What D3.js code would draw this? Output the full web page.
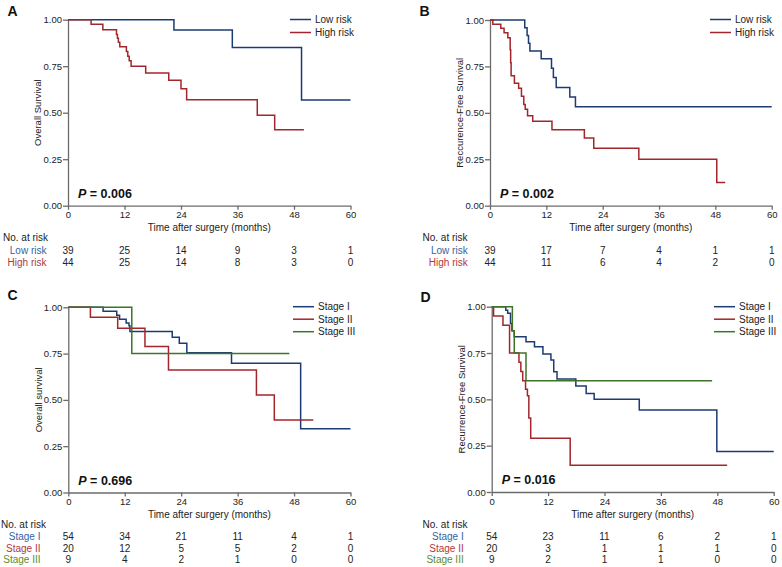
<!DOCTYPE html>
<html>
<head>
<meta charset="utf-8">
<script src="https://cdnjs.cloudflare.com/ajax/libs/d3/7.8.5/d3.min.js"></script>
<style>
	body { margin: 0; background: #fff; }
	svg { display: block; font-family: "Liberation Sans", Arial, sans-serif; }
	.axis path, .axis line { stroke: #6b6b6b; stroke-width: 1.3; }
	.axis text { fill: #222; font-size: 9.5px; }
</style>
</head>
<body>
<div class="svg-container"></div>
<script>
var pageWidth = 782,
	pageHeight = 567;

// tick labels
var timeTicks = [0, 12, 24, 36, 48, 60];
var survTicks = [0, 0.25, 0.5, 0.75, 1];

// A: overall survival by risk group  [months, survival]
var osLowRisk = [[0,1],[22.5,0.944],[34.9,0.85],[49.6,0.568],[60,0.568]];
var osHighRisk = [[0,1],[4.9,0.975],[7.4,0.946],[10.3,0.921],[10.5,0.9],[10.7,0.879],[11.0,0.854],
	[12.4,0.829],[12.7,0.804],[13.0,0.779],[13.4,0.75],[16.5,0.714],[21.4,0.675],[24.0,0.629],
	[25.2,0.57],[40.2,0.486],[43.9,0.409],[50.1,0.409]];

// B: recurrence-free survival by risk group
var rfsLowRisk = [[0,1],[7.4,0.958],[7.9,0.917],[8.2,0.875],[8.5,0.833],[10.9,0.792],[13.1,0.74],
	[13.5,0.69],[14.1,0.637],[17.0,0.585],[18.2,0.533],[60,0.533]];
var rfsHighRisk = [[0,1],[0.6,0.977],[2.3,0.955],[3.0,0.932],[3.8,0.905],[4.3,0.84],[4.4,0.77],
	[4.5,0.70],[5.2,0.659],[6.1,0.632],[6.7,0.59],[7.2,0.545],[7.5,0.52],[8.0,0.484],[9.1,0.455],
	[13.2,0.409],[20.1,0.364],[22.1,0.31],[31.7,0.25],[48.3,0.125],[50.1,0.125]];

// C: overall survival by stage
var osStage1 = [[0,1],[7.4,0.978],[10.3,0.957],[10.9,0.935],[12.3,0.915],[12.9,0.9],[13.1,0.869],
	[22.1,0.838],[23.6,0.806],[25.2,0.755],[34.7,0.698],[49.4,0.344],[60,0.344]];
var osStage2 = [[0,1],[4.7,0.946],[10.5,0.887],[16.3,0.788],[21.3,0.662],[40.0,0.527],[43.8,0.392],[52.1,0.392]];
var osStage3 = [[0,1],[13.5,0.75],[47.0,0.75]];

// D: recurrence-free survival by stage
var rfsStage1 = [[0,1],[3.0,0.981],[3.4,0.964],[4.0,0.91],[4.3,0.87],[4.8,0.838],[7.3,0.811],
	[9.1,0.784],[10.9,0.745],[12.6,0.712],[13.2,0.649],[13.9,0.61],[17.9,0.572],[20.1,0.532],
	[21.8,0.5],[31.4,0.442],[47.9,0.218],[60,0.218]];
var rfsStage2 = [[0,1],[0.4,0.95],[2.4,0.9],[3.8,0.75],[5.8,0.7],[6.2,0.65],[6.6,0.6],[7.2,0.555],
	[7.6,0.52],[7.9,0.4],[8.3,0.29],[16.7,0.145],[50.1,0.145]];
var rfsStage3 = [[0,1],[4.4,0.87],[4.8,0.75],[7.3,0.6],[46.9,0.6]];

// numbers at risk at 0, 12, 24, 36, 48, 60 months
var riskA = [[39,25,14,9,3,1],[44,25,14,8,3,0]];
var riskB = [[39,17,7,4,1,1],[44,11,6,4,2,0]];
var riskC = [[54,34,21,11,4,1],[20,12,5,5,2,0],[9,4,2,1,0,0]];
var riskD = [[54,23,11,6,2,1],[20,3,1,1,1,0],[9,2,1,1,0,0]];

var riskNames = ["Low risk", "High risk"];
var stageNames = ["Stage I", "Stage II", "Stage III"];
var pValues = ["0.006", "0.002", "0.696", "0.016"];

var lineColors = ["#1d3b73", "#a2262b", "#3d7428"];
var labelColors = ["#3563a3", "#b0383d", "#5b8c2e"];

var panels = [
	{letter: "A", letterX: 7.5, letterY: 16, x: [68, 350.5], y: [205.7, 19.7], ytitle: "Overall Survival",
	 series: [osLowRisk, osHighRisk], names: riskNames, risk: riskA, p: pValues[0],
	 legendX: 290, legendY: 19.5, legendStep: 13, rowLabelX: 46.5, noRiskX: 3, rowTop: 241, rowStep: 12.6},
	{letter: "B", letterX: 419.5, letterY: 15.5, x: [490, 771.7], y: [205.7, 20], ytitle: "Reccurence-Free Survival",
	 series: [rfsLowRisk, rfsHighRisk], names: riskNames, risk: riskB, p: pValues[1],
	 legendX: 710, legendY: 19.5, legendStep: 13, rowLabelX: 467.7, noRiskX: 422.5, rowTop: 241, rowStep: 12.6},
	{letter: "C", letterX: 7.5, letterY: 299.5, x: [68.3, 350.5], y: [492.5, 307.3], ytitle: "Overall survival",
	 series: [osStage1, osStage2, osStage3], names: stageNames, risk: riskC, p: pValues[2],
	 legendX: 293, legendY: 306.7, legendStep: 12.5, rowLabelX: 40.5, noRiskX: 1, rowTop: 528, rowStep: 11.8},
	{letter: "D", letterX: 420.5, letterY: 301.5, x: [491.7, 773.7], y: [492, 306.7], ytitle: "Recurrence-Free Survival",
	 series: [rfsStage1, rfsStage2, rfsStage3], names: stageNames, risk: riskD, p: pValues[3],
	 legendX: 714, legendY: 306.7, legendStep: 12.5, rowLabelX: 463.7, noRiskX: 422.5, rowTop: 528, rowStep: 11.8}
];

function plot() {
	var svg = d3.select(".svg-container")
	.append("svg")
	.attr("width", pageWidth)
	.attr("height", pageHeight);

	panels.forEach(function(p) {
		drawPanel(svg, p);
	});
}

function drawPanel(svg, p) {
	var xScale = d3.scaleLinear().domain([0, 60]).range(p.x);
	var yScale = d3.scaleLinear().domain([0, 1]).range(p.y);

	var xAxis = d3.axisBottom(xScale).tickValues(timeTicks).tickSize(4).tickPadding(2).tickSizeOuter(0);
	var yAxis = d3.axisLeft(yScale).tickValues(survTicks).tickFormat(d3.format(".2f")).tickSize(5).tickPadding(1).tickSizeOuter(0);

	svg.append("g")
	.attr("class", "axis")
	.attr("transform", "translate(0," + p.y[0] + ")")
	.call(xAxis);

	svg.append("g")
	.attr("class", "axis")
	.attr("transform", "translate(" + p.x[0] + ",0)")
	.call(yAxis);

	// y title
	svg.append("text")
	.attr("transform", "translate(" + (p.x[0] - 30) + "," + ((p.y[0] + p.y[1]) / 2) + ") rotate(-90)")
	.attr("text-anchor", "middle")
	.attr("dy", "0.35em")
	.attr("font-size", "9.5px")
	.attr("fill", "#222")
	.text(p.ytitle);

	// x title
	svg.append("text")
	.attr("x", (p.x[0] + p.x[1]) / 2)
	.attr("y", p.y[0] + 25.5)
	.attr("text-anchor", "middle")
	.attr("font-size", "10px")
	.attr("fill", "#222")
	.text("Time after surgery (months)");

	// panel letter
	svg.append("text")
	.attr("x", p.letterX)
	.attr("y", p.letterY)
	.attr("font-size", "14px")
	.attr("font-weight", "bold")
	.attr("fill", "#111")
	.text(p.letter);

	var line = d3.line()
	.curve(d3.curveStepAfter)
	.x(function(d) { return xScale(d[0]); })
	.y(function(d) { return yScale(d[1]); });

	p.series.forEach(function(s, i) {
		svg.append("path")
		.datum(s)
		.attr("fill", "none")
		.attr("stroke", lineColors[i])
		.attr("stroke-width", 1.5)
		.attr("d", line);
	});

	// legend
	p.names.forEach(function(name, i) {
		var ly = p.legendY + i * p.legendStep;
		svg.append("line")
		.attr("x1", p.legendX).attr("x2", p.legendX + 21)
		.attr("y1", ly).attr("y2", ly)
		.attr("stroke", lineColors[i])
		.attr("stroke-width", 1.5);
		svg.append("text")
		.attr("x", p.legendX + 25)
		.attr("y", ly)
		.attr("dy", "0.35em")
		.attr("font-size", "10px")
		.attr("fill", "#222")
		.text(name);
	});

	// p value
	var pt = svg.append("text")
	.attr("x", p.x[0] + 10)
	.attr("y", p.y[0] - 8)
	.attr("font-size", "12.5px")
	.attr("font-weight", "bold")
	.attr("fill", "#111");
	pt.append("tspan").attr("font-style", "italic").text("P");
	pt.append("tspan").text(" = " + p.p);

	// numbers at risk
	svg.append("text")
	.attr("x", p.noRiskX)
	.attr("y", p.rowTop)
	.attr("font-size", "10px")
	.attr("fill", "#222")
	.text("No. at risk");

	p.risk.forEach(function(row, i) {
		var ry = p.rowTop + (i + 1) * p.rowStep;
		svg.append("text")
		.attr("x", p.rowLabelX)
		.attr("y", ry)
		.attr("text-anchor", "end")
		.attr("font-size", "10px")
		.attr("fill", labelColors[i])
		.text(p.names[i]);

		svg.selectAll(null)
		.data(row)
		.enter()
		.append("text")
		.attr("x", function(d, j) { return xScale(timeTicks[j]); })
		.attr("y", ry)
		.attr("text-anchor", "middle")
		.attr("font-size", "10px")
		.attr("fill", "#222")
		.text(function(d) { return d; });
	});
}

plot();
</script>
</body>
</html>
